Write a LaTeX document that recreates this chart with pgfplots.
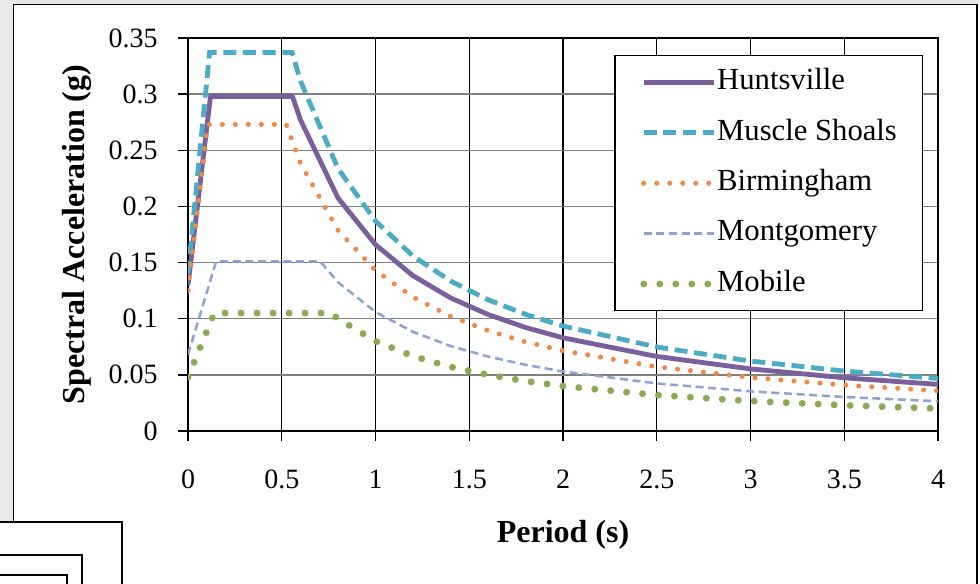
\documentclass[border=0pt]{standalone}
\usepackage{fontspec}
\setmainfont{Liberation Serif}
\usepackage{pgfplots}
\pgfplotsset{compat=1.18}
\definecolor{hunt}{HTML}{7B5E9C}
\definecolor{musc}{HTML}{4BACC6}
\definecolor{birm}{HTML}{EE8A48}
\definecolor{mont}{HTML}{8FA2D2}
\definecolor{mobi}{HTML}{8CAA55}
\definecolor{bg}{HTML}{E8E8E8}
\definecolor{gridgray}{HTML}{808080}
\begin{document}
\begin{tikzpicture}[x=0.75pt,y=-0.75pt]
\useasboundingbox (0,0) rectangle (980,584);
\fill[bg] (0,0) rectangle (980,584);
\fill[white] (13.5,4.5) rectangle (980,584);
\fill[white] (0,522) rectangle (122,584);
\draw[line width=1.1pt] (13.5,522) -- (13.5,4.5) -- (977,4.5) -- (977,584);
\draw[line width=1pt] (0,522) -- (122,522) -- (122,584);
\draw[line width=1pt] (0,555) -- (82,555) -- (82,584);
\draw[line width=1pt] (0,575) -- (67,575) -- (67,584);
\coordinate (O) at (188,431);
\begin{axis}[at={(O)}, anchor=south west, scale only axis,
  width=562.5pt, height=294.75pt,
  xmin=0, xmax=4, ymin=0, ymax=0.35,
  xtick={0,0.5,1,1.5,2,2.5,3,3.5,4},
  xticklabels={0,0.5,1,1.5,2,2.5,3,3.5,4},
  ytick={0,0.05,0.1,0.15,0.2,0.25,0.3,0.35},
  yticklabels={0,0.05,0.1,0.15,0.2,0.25,0.3,0.35},
  /pgf/number format/assume math mode=true,
  tick pos=left, tick align=outside, major tick length=7.5pt,
  tick style={black, line width=1.1pt},
  axis line style={black, line width=1.1pt},
  xmajorgrids, ymajorgrids,
  x grid style={black, line width=1.1pt},
  y grid style={gridgray, line width=1.1pt},
  ticklabel style={font=\fontsize{21}{25}\selectfont},
  xticklabel style={anchor=base, inner sep=0pt, yshift=-35.5pt},
  yticklabel style={anchor=east, inner sep=0pt, xshift=-15pt},
  xlabel={\bfseries Period (s)},
  ylabel={\bfseries Spectral Acceleration (g)},
  label style={font=\fontsize{24}{28}\selectfont},
  xlabel style={at={(axis description cs:0.5,-0.265)}, anchor=center},
  ylabel style={at={(axis description cs:-0.148,0.5)}, anchor=center},
  legend cell align=left,
  legend image code/.code={\draw[#1] (0pt,0pt) -- (52.5pt,0pt);},
  legend style={at={(axis description cs:0.98,0.9567)}, anchor=north east,
    draw=black, line width=1.1pt, fill=white,
    inner xsep=19pt, inner ysep=10pt, row sep=17.8pt,
    font=\fontsize{23}{27}\selectfont,
    nodes={inner sep=0pt, text height=15.5pt, text depth=4.5pt},
    /tikz/every even column/.append style={column sep=4pt}},
]
\addplot[hunt, line width=3.6pt, line join=round] coordinates {
(0,0.13) (0.12,0.298) (0.557,0.298) (0.6,0.277) (0.8,0.2075) (1.0,0.166)
(1.2,0.1383) (1.4,0.1186) (1.6,0.1038) (1.8,0.0922) (2.0,0.083) (2.5,0.0664)
(3.0,0.0553) (3.5,0.0474) (4.0,0.0415)};
\addlegendentry{Huntsville}
\addplot[musc, line width=3.6pt, dash pattern=on 9.75pt off 5pt] coordinates {
(0,0.14) (0.115,0.337) (0.555,0.337) (0.6,0.3117) (0.8,0.2338) (1.0,0.187)
(1.2,0.1558) (1.4,0.1336) (1.6,0.1169) (1.8,0.1039) (2.0,0.0935) (2.5,0.0748)
(3.0,0.0623) (3.5,0.0534) (4.0,0.0468)};
\addlegendentry{Muscle Shoals}
\addplot[birm, line width=3.8pt, line cap=round, dash pattern=on 0pt off 9.75pt] coordinates {
(0,0.125) (0.105,0.273) (0.524,0.273) (0.6,0.2383) (0.8,0.1788) (1.0,0.143)
(1.2,0.1192) (1.4,0.1021) (1.6,0.0894) (1.8,0.0794) (2.0,0.0715) (2.5,0.0572)
(3.0,0.0477) (3.5,0.0409) (4.0,0.0358)};
\addlegendentry{Birmingham}
\addplot[mont, line width=1.9pt, dash pattern=on 6pt off 3.5pt] coordinates {
(0,0.068) (0.15,0.151) (0.705,0.151) (0.8,0.1325) (1.0,0.106) (1.2,0.0883)
(1.4,0.0757) (1.6,0.0663) (1.8,0.0589) (2.0,0.053) (2.5,0.0424) (3.0,0.0353)
(3.5,0.0303) (4.0,0.0265)};
\addlegendentry{Montgomery}
\addplot[mobi, line width=5.2pt, line cap=round, dash pattern=on 0pt off 12pt] coordinates {
(0,0.048) (0.14,0.105) (0.762,0.105) (0.8,0.1) (1.0,0.08) (1.2,0.0667)
(1.4,0.0571) (1.6,0.05) (1.8,0.0444) (2.0,0.04) (2.5,0.032) (3.0,0.0267)
(3.5,0.0229) (4.0,0.02)};
\addlegendentry{Mobile}
\end{axis}
\end{tikzpicture}
\end{document}
